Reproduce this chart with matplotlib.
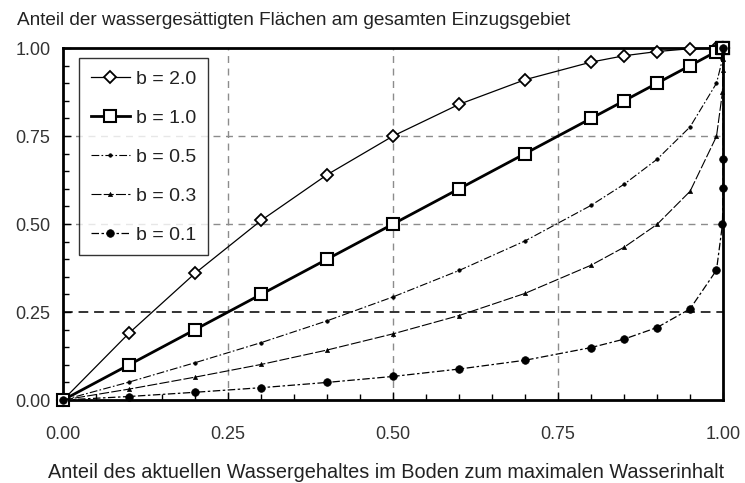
import matplotlib
matplotlib.use("Agg")
import matplotlib.pyplot as plt
from matplotlib.ticker import MultipleLocator

plt.rcParams['font.family'] = ['Liberation Sans', 'DejaVu Sans']

# relative soil water content (x) and saturated area fraction per b
x_vals = [0.0, 0.1, 0.2, 0.3, 0.4, 0.5, 0.6, 0.7, 0.8, 0.85, 0.9, 0.95,
          0.99, 0.999, 0.9999, 0.99999, 1.0]
y_b20 = [0.0, 0.19, 0.36, 0.51, 0.64, 0.75, 0.84, 0.91, 0.96, 0.978, 0.99,
         0.998, 1.0, 1.0, 1.0, 1.0, 1.0]
y_b10 = [0.0, 0.1, 0.2, 0.3, 0.4, 0.5, 0.6, 0.7, 0.8, 0.85, 0.9, 0.95,
         0.99, 0.999, 1.0, 1.0, 1.0]
y_b05 = [0.0, 0.051, 0.106, 0.163, 0.225, 0.293, 0.368, 0.452, 0.553, 0.613,
         0.684, 0.776, 0.90, 0.968, 0.99, 0.997, 1.0]
y_b03 = [0.0, 0.031, 0.065, 0.101, 0.142, 0.188, 0.240, 0.303, 0.383, 0.434,
         0.499, 0.593, 0.749, 0.874, 0.937, 0.968, 1.0]
y_b01 = [0.0, 0.010, 0.022, 0.035, 0.050, 0.067, 0.088, 0.113, 0.149, 0.173,
         0.206, 0.259, 0.369, 0.499, 0.602, 0.684, 1.0]

labels = ['b = 2.0', 'b = 1.0', 'b = 0.5', 'b = 0.3', 'b = 0.1']
tick_vals = [0.0, 0.25, 0.5, 0.75, 1.0]
tick_labels = ['0.00', '0.25', '0.50', '0.75', '1.00']

fig = plt.figure(figsize=(7.45, 4.83), dpi=100)
ax = fig.add_axes([0.0846, 0.1718, 0.886, 0.7288])

styles = [
    dict(y=y_b20, ls='-', lw=0.9, marker='D', ms=6, mfc='white', mew=1.3),
    dict(y=y_b10, ls='-', lw=2.0, marker='s', ms=9, mfc='white', mew=1.5),
    dict(y=y_b05, ls=(0, (7, 2, 1.5, 2)), lw=0.8, marker='o', ms=2.5, mfc='black', mew=0.5),
    dict(y=y_b03, ls=(0, (9, 2)), lw=0.8, marker='^', ms=3, mfc='black', mew=0.5),
    dict(y=y_b01, ls=(0, (6, 2, 2, 2)), lw=0.9, marker='o', ms=5.5, mfc='black', mew=0.5),
]
for lab, st in zip(labels, styles):
    ax.plot(x_vals, st['y'], color='black', ls=st['ls'], lw=st['lw'],
            marker=st['marker'], ms=st['ms'], mfc=st['mfc'], mec='black',
            mew=st['mew'], label=lab, clip_on=False, zorder=3)

# grid lines
for v in [0.25, 0.5, 0.75]:
    ax.axvline(v, color='#8c8c8c', ls=(0, (5, 4)), lw=1.0, zorder=1)
for v in [0.5, 0.75]:
    ax.axhline(v, color='#8c8c8c', ls=(0, (5, 4)), lw=1.0, zorder=1)
ax.axhline(0.25, color='#333333', ls=(0, (5, 3)), lw=1.4, zorder=1)

ax.set_xlim(0, 1)
ax.set_ylim(0, 1)
ax.set_xticks(tick_vals)
ax.set_xticklabels(tick_labels)
ax.set_yticks(tick_vals)
ax.set_yticklabels(tick_labels)
ax.xaxis.set_minor_locator(MultipleLocator(0.05))
ax.yaxis.set_minor_locator(MultipleLocator(0.05))
ax.tick_params(which='both', direction='in', color='black', width=1.0)
ax.tick_params(which='major', length=6, labelsize=13, labelcolor='#333333')
ax.tick_params(axis='x', which='major', pad=19)
ax.tick_params(axis='y', which='major', pad=9)
ax.tick_params(which='minor', length=4)
for sp in ax.spines.values():
    sp.set_linewidth(2.0)

ax.set_xlabel('Anteil des aktuellen Wassergehaltes im Boden zum maximalen Wasserinhalt',
              fontsize=14.3, color='#222222', labelpad=10)
ax.xaxis.set_label_coords(0.49, -0.18)
fig.text(0.023, 0.958, 'Anteil der wassergesättigten Flächen am gesamten Einzugsgebiet',
         fontsize=13.7, color='#222222', va='center', ha='left')

leg = ax.legend(loc='upper left', bbox_to_anchor=(0.010, 0.998), fontsize=14,
                frameon=True, fancybox=False, edgecolor='black', handlelength=2.0,
                handletextpad=0.3, labelspacing=1.1, borderpad=0.6)
leg.get_frame().set_linewidth(1.0)
for t in leg.get_texts():
    t.set_color('#222222')

fig.savefig('out.png', dpi=100)
